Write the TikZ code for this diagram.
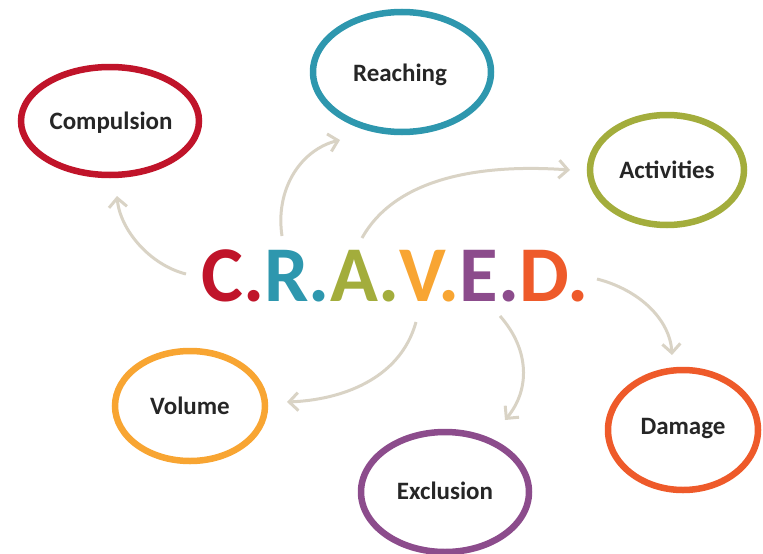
\documentclass[tikz,border=0pt]{standalone}
\usepackage{fontspec}
\setmainfont{Carlito}
\usetikzlibrary{arrows.meta}
\definecolor{cred}{HTML}{C0142A}
\definecolor{cteal}{HTML}{2E97AE}
\definecolor{colive}{HTML}{A3AD3C}
\definecolor{corange}{HTML}{F8A532}
\definecolor{cpurple}{HTML}{8C4C8C}
\definecolor{cdamage}{HTML}{EE5A2A}
\definecolor{carrow}{HTML}{D9D3C5}
\begin{document}
\begin{tikzpicture}[x=1pt,y=-1pt,
  ring/.style={line width=6.5pt},
  lab/.style={font=\fontsize{25}{28}\selectfont\bfseries,text=black!85,inner sep=0pt},
  flow/.style={draw=carrow,line width=3pt,-{Straight Barb[length=9pt,width=18pt,line width=3pt]}}]
\useasboundingbox (0,0) rectangle (763,554);
\draw[ring,draw=cred] (110,121) ellipse [x radius=89,y radius=54];
\draw[ring,draw=cteal] (402,72) ellipse [x radius=89,y radius=60];
\draw[ring,draw=colive] (667,170) ellipse [x radius=77,y radius=55];
\draw[ring,draw=cdamage] (683,430) ellipse [x radius=75,y radius=60];
\draw[ring,draw=corange] (190,406) ellipse [x radius=75,y radius=55];
\draw[ring,draw=cpurple] (445,492) ellipse [x radius=84,y radius=60];
\node[lab] (comp) at (111,123) {Compulsion};
\node[lab] (reach) at (400,75) {Reaching};
\node[lab] (act) at (667,170) {Activities};
\node[lab] (dam) at (683,429) {Damage};
\node[lab] (vol) at (190,406) {Volume};
\node[lab] (exc) at (445,491) {Exclusion};
\node[inner sep=0pt,font=\fontsize{79}{84}\selectfont\bfseries] (craved) at (395,276)
  {\textcolor{cred}{C.}\textcolor{cteal}{R.}\textcolor{colive}{A.}\textcolor{corange}{V.}\textcolor{cpurple}{E.}\textcolor{cdamage}{D.}};
\coordinate (s1) at (186,274); \coordinate (e1) at (117,196);
\coordinate (s2) at (282,236); \coordinate (e2) at (340,140);
\coordinate (s3) at (362,238); \coordinate (e3) at (570,170);
\coordinate (s4) at (597,279); \coordinate (e4) at (672,355);
\coordinate (s5) at (500,316); \coordinate (e5) at (505,420);
\coordinate (s6) at (416,322); \coordinate (e6) at (287,402);
\draw[flow] (s1) .. controls (150,265) and (120,230) .. (e1);
\draw[flow] (s2) .. controls (275,190) and (300,150) .. (e2);
\draw[flow] (s3) .. controls (400,170) and (500,165) .. (e3);
\draw[flow] (s4) .. controls (640,290) and (670,320) .. (e4);
\draw[flow] (s5) .. controls (530,350) and (530,390) .. (e5);
\draw[flow] (s6) .. controls (400,380) and (340,400) .. (e6);
\end{tikzpicture}
\end{document}
